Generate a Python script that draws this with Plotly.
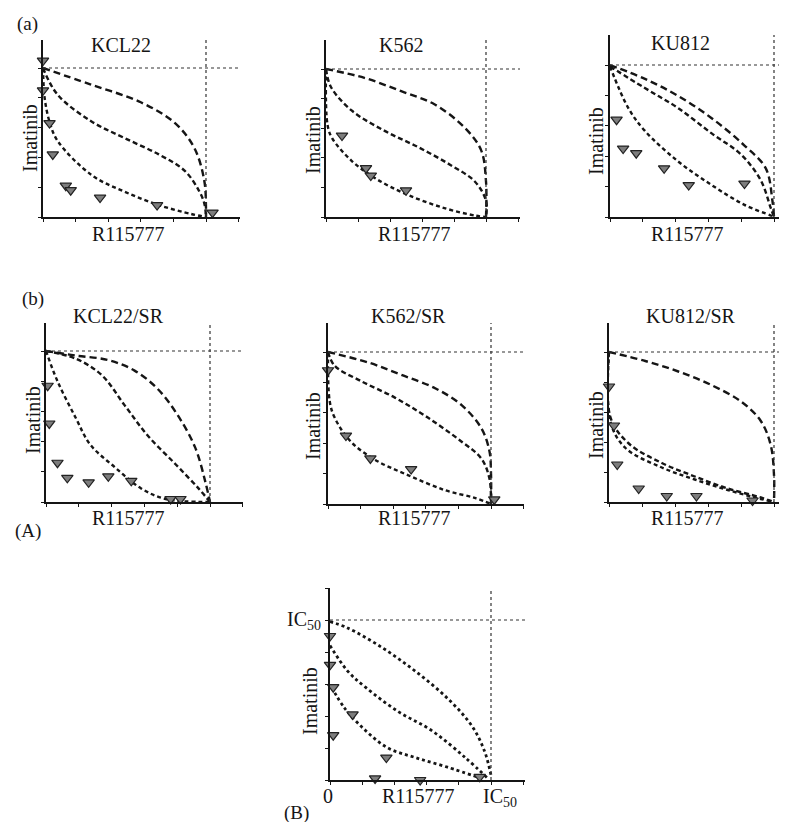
import plotly.graph_objects as go

W, H = 787, 822

# ---------------- data (fractions of IC50) ----------------
KCL22_UP = [(0, 1), (0.29, 0.89), (0.60, 0.77), (0.81, 0.63), (0.93, 0.46), (0.99, 0.24), (1.0, 0.06), (1.0, 0)]
KCL22_MID = [(0, 1), (0.09, 0.82), (0.30, 0.64), (0.50, 0.53), (0.71, 0.42), (0.87, 0.31), (0.96, 0.17), (0.99, 0.09), (1.0, 0)]
KCL22_LOW = [(0, 1), (0.01, 0.80), (0.04, 0.64), (0.09, 0.51), (0.30, 0.28), (0.50, 0.17), (0.71, 0.08), (0.91, 0.02), (1.0, 0)]
KCL22_PX = [0.0, 0.0, 0.04, 0.06, 0.14, 0.17, 0.35, 0.70, 1.04]
KCL22_PY = [1.05, 0.85, 0.63, 0.42, 0.21, 0.18, 0.13, 0.08, 0.03]

K562_UP = [(0, 1), (0.24, 0.94), (0.47, 0.85), (0.68, 0.76), (0.87, 0.60), (0.97, 0.45), (1.0, 0.24), (1.0, 0)]
K562_MID = [(0, 1), (0.03, 0.88), (0.16, 0.72), (0.37, 0.58), (0.58, 0.47), (0.78, 0.35), (0.93, 0.24), (1.0, 0.11), (1.0, 0)]
K562_LOW = [(0, 1), (0.01, 0.62), (0.04, 0.53), (0.16, 0.38), (0.31, 0.26), (0.51, 0.15), (0.74, 0.06), (0.93, 0.01), (1.0, 0)]
K562_PX = [0.10, 0.25, 0.28, 0.50]
K562_PY = [0.55, 0.33, 0.28, 0.18]

KU812_UP = [(0, 1), (0.21, 0.91), (0.41, 0.80), (0.62, 0.65), (0.82, 0.47), (0.95, 0.32), (0.99, 0.11), (1.0, 0)]
KU812_MID = [(0, 0.99), (0.21, 0.85), (0.41, 0.72), (0.62, 0.55), (0.80, 0.41), (0.92, 0.24), (0.98, 0.06), (1.0, 0)]
KU812_LOW = [(0, 0.99), (0.11, 0.72), (0.21, 0.57), (0.41, 0.37), (0.62, 0.21), (0.82, 0.08), (0.98, 0.01), (1.0, 0)]
KU812_PX = [0.04, 0.08, 0.16, 0.33, 0.48, 0.82]
KU812_PY = [0.64, 0.45, 0.42, 0.32, 0.21, 0.22]

KCL22SR_UP = [(0, 1), (0.18, 0.97), (0.38, 0.94), (0.54, 0.87), (0.68, 0.75), (0.80, 0.58), (0.91, 0.36), (0.97, 0.14), (1.0, 0)]
KCL22SR_MID = [(0, 1), (0.18, 0.95), (0.34, 0.84), (0.48, 0.64), (0.62, 0.44), (0.79, 0.25), (0.93, 0.09), (1.0, 0)]
KCL22SR_LOW = [(0, 1), (0.07, 0.80), (0.18, 0.56), (0.27, 0.38), (0.42, 0.23), (0.58, 0.09), (0.73, 0.02), (1.0, 0)]
KCL22SR_PX = [0.01, 0.02, 0.07, 0.13, 0.26, 0.38, 0.52, 0.76, 0.82]
KCL22SR_PY = [0.77, 0.52, 0.26, 0.16, 0.13, 0.17, 0.14, 0.02, 0.02]

K562SR_UP = [(0, 1), (0.25, 0.93), (0.45, 0.85), (0.66, 0.76), (0.82, 0.65), (0.94, 0.50), (0.99, 0.35), (1.0, 0.20), (1.0, 0)]
K562SR_MID = [(0, 1), (0.04, 0.91), (0.20, 0.81), (0.41, 0.70), (0.61, 0.57), (0.82, 0.41), (0.94, 0.30), (0.99, 0.17), (1.0, 0)]
K562SR_LOW = [(0, 1), (0.01, 0.68), (0.04, 0.57), (0.14, 0.41), (0.29, 0.29), (0.49, 0.19), (0.72, 0.09), (0.90, 0.04), (1.0, 0)]
K562SR_PX = [0.0, 0.11, 0.26, 0.51, 1.02]
K562SR_PY = [0.88, 0.45, 0.30, 0.23, 0.03]

KU812SR_UP = [(0, 1), (0.22, 0.94), (0.42, 0.87), (0.62, 0.78), (0.80, 0.67), (0.92, 0.54), (0.98, 0.38), (1.0, 0.18), (1.0, 0)]
KU812SR_MID = [(0, 1), (0.01, 0.56), (0.12, 0.39), (0.32, 0.26), (0.52, 0.17), (0.72, 0.09), (0.92, 0.03), (1.0, 0)]
KU812SR_LOW = [(0, 1), (0.01, 0.53), (0.10, 0.36), (0.32, 0.23), (0.52, 0.15), (0.72, 0.08), (0.92, 0.02), (1.0, 0)]
KU812SR_PX = [0.0, 0.03, 0.05, 0.18, 0.35, 0.53, 0.87]
KU812SR_PY = [0.77, 0.51, 0.25, 0.09, 0.04, 0.04, 0.01]

SCHEME_UP = [(0, 0.99), (0.11, 0.95), (0.32, 0.83), (0.53, 0.68), (0.73, 0.51), (0.88, 0.34), (0.96, 0.18), (1.0, 0.03)]
SCHEME_MID = [(0, 0.84), (0.11, 0.68), (0.22, 0.58), (0.42, 0.43), (0.63, 0.31), (0.84, 0.14), (0.98, 0.01)]
SCHEME_LOW = [(0.01, 0.58), (0.09, 0.45), (0.22, 0.31), (0.36, 0.20), (0.53, 0.14), (0.73, 0.08), (0.94, 0.01)]
SCHEME_PX = [0.0, 0.0, 0.02, 0.14, 0.02, 0.35, 0.28, 0.56, 0.93]
SCHEME_PY = [0.90, 0.72, 0.58, 0.41, 0.28, 0.14, 0.01, 0.0, 0.02]

TITLES = ["KCL22", "K562", "KU812", "KCL22/SR", "K562/SR", "KU812/SR", ""]
Y_LABEL = "Imatinib"
X_LABEL = "R115777"
IC50 = "IC<sub>50</sub>"

# ---------------- layout (pixel geometry) ----------------
# x0 (data 0), x1 (data 1), xend ; y0 (data 0), y1 (data 1), ytop
panels = [
    dict(c=(KCL22_UP, KCL22_MID, KCL22_LOW), px=KCL22_PX, py=KCL22_PY, gx=(35, 198, 232), gy=(209, 60, 32),
         t=(113, 37), yl=(22, 130), xl=(120, 226)),
    dict(c=(K562_UP, K562_MID, K562_LOW), px=K562_PX, py=K562_PY, gx=(318, 478, 512), gy=(209, 61, 32),
         t=(393, 37), yl=(305, 132), xl=(406, 226)),
    dict(c=(KU812_UP, KU812_MID, KU812_LOW), px=KU812_PX, py=KU812_PY, gx=(602, 766, 787), gy=(209, 57, 27),
         t=(672, 35), yl=(588, 133), xl=(679, 226)),
    dict(c=(KCL22SR_UP, KCL22SR_MID, KCL22SR_LOW), px=KCL22SR_PX, py=KCL22SR_PY, gx=(38, 202, 235), gy=(494, 343, 315),
         t=(110, 308), yl=(25, 412), xl=(120, 510)),
    dict(c=(K562SR_UP, K562SR_MID, K562SR_LOW), px=K562SR_PX, py=K562SR_PY, gx=(320, 483, 516), gy=(496, 344, 315),
         t=(400, 308), yl=(305, 418), xl=(406, 510)),
    dict(c=(KU812SR_UP, KU812SR_MID, KU812SR_LOW), px=KU812SR_PX, py=KU812SR_PY, gx=(601, 766, 787), gy=(494, 344, 315),
         t=(683, 308), yl=(588, 417), xl=(679, 510)),
    dict(c=(SCHEME_UP, SCHEME_MID, SCHEME_LOW), px=SCHEME_PX, py=SCHEME_PY, gx=(322, 483, 517), gy=(772, 612, 580),
         t=None, yl=(302, 693), xl=(410, 788)),
]

FONT = "Liberation Serif"
INK = "#151515"
fig = go.Figure()
annotations = []
shapes = []
dashes = ["7px,4px", "5px,3px", "4px,3px"]

def ann(text, px, py, size=19, angle=0, xanchor="center"):
    annotations.append(dict(text=text, x=px / W, y=1 - py / H, xref="paper", yref="paper",
                            showarrow=False, textangle=angle, xanchor=xanchor, yanchor="middle",
                            font=dict(family=FONT, size=size, color=INK)))

for i, p in enumerate(panels):
    k = "" if i == 0 else str(i + 1)
    x0, x1, xe = p["gx"]
    y0, y1, yt = p["gy"]
    xmax = (xe - x0) / (x1 - x0)
    ymax = (y0 - yt) / (y0 - y1)
    ax = dict(domain=[x0 / W, min(xe / W, 1.0)], range=[0, xmax], showline=True, linecolor=INK, linewidth=1.6,
              ticks="outside", ticklen=3, tickcolor=INK, tick0=0, dtick=0.2, showticklabels=False,
              showgrid=False, zeroline=False, fixedrange=True)
    ay = dict(domain=[1 - y0 / H, 1 - yt / H], range=[0, ymax], showline=True, linecolor=INK, linewidth=1.6,
              ticks="outside", ticklen=3, tickcolor=INK, tick0=0, dtick=0.2, showticklabels=False,
              showgrid=False, zeroline=False, fixedrange=True)
    ax["anchor"] = "y" + k
    ay["anchor"] = "x" + k
    fig.layout["xaxis" + k] = ax
    fig.layout["yaxis" + k] = ay
    xr, yr = "x" + k, "y" + k
    # IC50 reference lines
    shapes.append(dict(type="line", xref=xr, yref=yr, x0=0, x1=xmax, y0=1, y1=1,
                       line=dict(color="#333", width=1.2, dash="dot")))
    shapes.append(dict(type="line", xref=xr, yref=yr, x0=1, x1=1, y0=0, y1=ymax,
                       line=dict(color="#333", width=1.2, dash="dot")))
    scheme = (i == 6)
    for j, curve in enumerate(p["c"]):
        fig.add_trace(go.Scatter(x=[a for a, b in curve], y=[b for a, b in curve], xaxis=xr, yaxis=yr,
                                 mode="lines", line=dict(color=INK, width=2.8 if scheme else 2.4,
                                                         dash="dot" if scheme else dashes[j],
                                                         shape="spline", smoothing=1.0),
                                 hoverinfo="skip", showlegend=False, cliponaxis=False))
    fig.add_trace(go.Scatter(x=p["px"], y=p["py"], xaxis=xr, yaxis=yr, mode="markers",
                             marker=dict(symbol="triangle-down", size=10, color="#7d7d7d",
                                         line=dict(color="#222", width=1.2)),
                             showlegend=False, cliponaxis=False))
    if p["t"]:
        ann(TITLES[i], p["t"][0], p["t"][1], size=20)
    ann(Y_LABEL, p["yl"][0], p["yl"][1], size=20, angle=-90)
    ann(X_LABEL, p["xl"][0], p["xl"][1], size=20)

# panel B tick labels
ann("0", 320, 788, size=20)
ann(IC50, 492, 789, size=20)
ann(IC50, 296, 612, size=20)
# panel letters
ann("(a)", 19, 16, size=19)
ann("(b)", 25, 291, size=19)
ann("(A)", 20, 523, size=19)
ann("(B)", 288, 805, size=19)

fig.update_layout(width=W, height=H, margin=dict(l=0, r=0, t=0, b=0),
                  paper_bgcolor="white", plot_bgcolor="white",
                  annotations=annotations, shapes=shapes, showlegend=False)
fig.write_html("out.html")
